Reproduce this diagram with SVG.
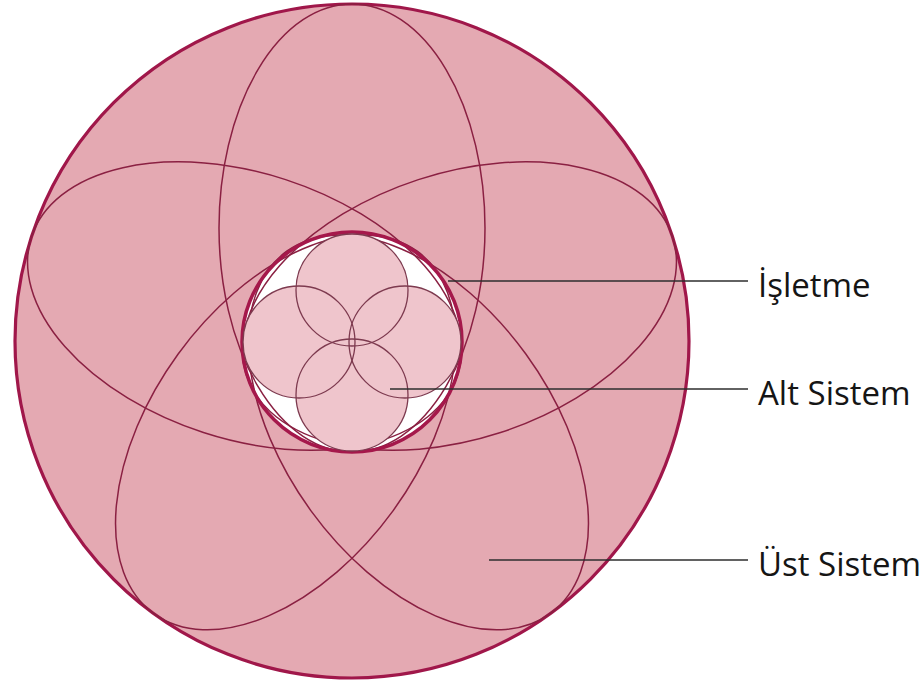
<svg xmlns="http://www.w3.org/2000/svg" width="924" height="682" viewBox="0 0 924 682">
<style>
.outer{fill:#e4a9b2;stroke:#a0174a;stroke-width:3.2}
.core{fill:#ffffff;stroke:none}
.coreline{fill:none;stroke:#a5184b;stroke-width:3.5}
.petal{fill:none;stroke:#8a2042;stroke-width:1.5}
.subfill{fill:#efc5cc;stroke:none}
.subline{fill:none;stroke:#7d3a4f;stroke-width:1.3}
.lead{stroke:#2e2e2e;stroke-width:1.7;fill:none}
.lbl{font-family:"Open Sans","Noto Sans",sans-serif;font-size:33px;fill:#151515}
</style>
<rect width="924" height="682" fill="#ffffff"/>
<g id="ust-sistem">
<circle class="outer" cx="352" cy="341" r="337"/>
</g>
<g id="isletme">
<circle class="core" cx="352" cy="342" r="110"/>
<g id="petals">
<ellipse class="petal" cx="352" cy="228" rx="133" ry="224" transform="rotate(0 352 341)"/>
<ellipse class="petal" cx="352" cy="228" rx="133" ry="224" transform="rotate(72 352 341)"/>
<ellipse class="petal" cx="352" cy="228" rx="133" ry="224" transform="rotate(144 352 341)"/>
<ellipse class="petal" cx="352" cy="228" rx="133" ry="224" transform="rotate(216 352 341)"/>
<ellipse class="petal" cx="352" cy="228" rx="133" ry="224" transform="rotate(288 352 341)"/>
</g>
<circle class="coreline" cx="352" cy="342" r="110"/>
</g>
<g id="alt-sistem">
<circle class="subfill" cx="352" cy="290" r="56"/>
<circle class="subfill" cx="299" cy="342" r="56"/>
<circle class="subfill" cx="405" cy="342" r="56"/>
<circle class="subfill" cx="352" cy="395" r="56"/>
<circle class="subline" cx="352" cy="290" r="56"/>
<circle class="subline" cx="299" cy="342" r="56"/>
<circle class="subline" cx="405" cy="342" r="56"/>
<circle class="subline" cx="352" cy="395" r="56"/>
</g>
<g id="connectors">
<line class="lead" x1="448" y1="281" x2="748" y2="281"/>
<line class="lead" x1="390" y1="389" x2="748" y2="389"/>
<line class="lead" x1="489" y1="560" x2="748" y2="560"/>
</g>
<g id="labels">
<text class="lbl" x="758" y="297">İşletme</text>
<text class="lbl" x="758" y="405">Alt Sistem</text>
<text class="lbl" x="758" y="576">Üst Sistem</text>
</g>
</svg>
